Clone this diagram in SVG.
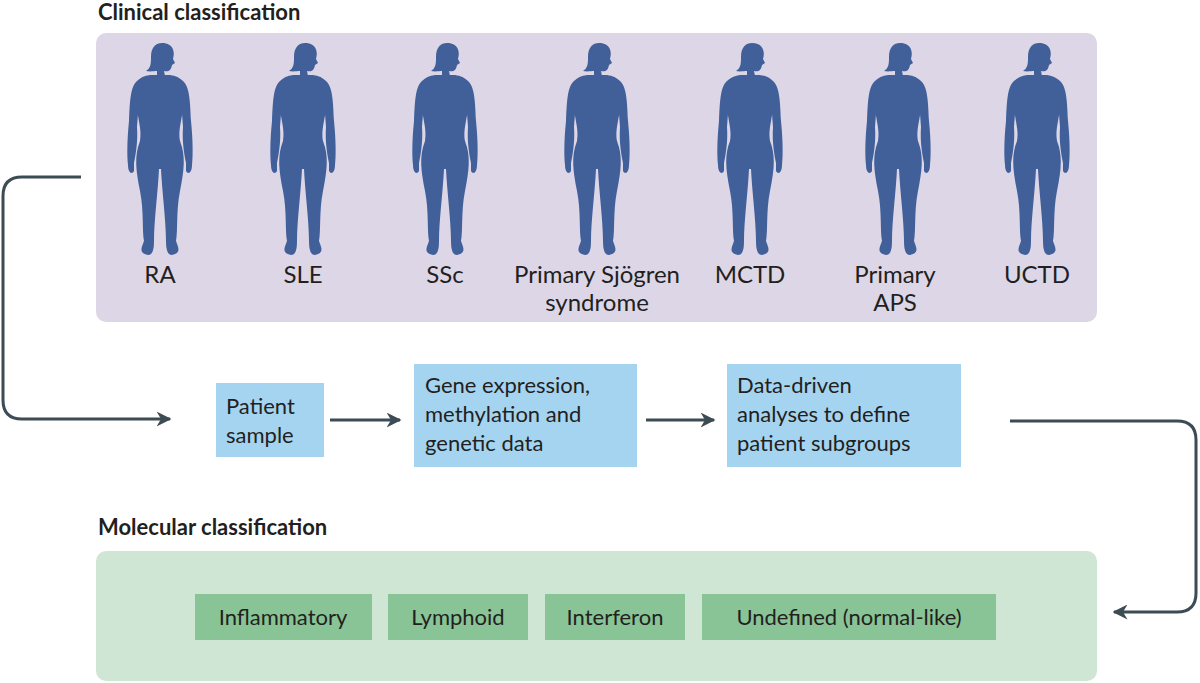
<svg xmlns="http://www.w3.org/2000/svg" width="1200" height="683" viewBox="0 0 1200 683">
<style>
text{font-family:Lato,"Open Sans",sans-serif;fill:#231f20}
.t{font-size:22px;font-weight:bold}
.l{font-size:24px;text-anchor:middle}
.b{font-size:22px}
.fig{fill:#41609a}
.c{fill:none;stroke:#3d4b55;stroke-width:3}
</style>
<defs>
<marker id="a" viewBox="0 0 10 10" refX="9" refY="5" markerWidth="5" markerHeight="5" orient="auto"><path d="M0,0L10,5L0,10L3,5Z" fill="#3d4b55"/></marker>
<g id="w" class="fig">
<path d="M38,2 C50,2 51,12 49,18 L51,22 L48,24 C47,30 44,31 40,30 L41,35 L33,35 L33,30 C30,30 26,31 22,30 C27,27 27,22 27,16 C27,6 32,2 38,2 Z"/>
<path d="M26,34 L46,34 C58,36 62,40 60,60 C58,80 54,88 56,100 C62,115 60,130 56,150 C52,170 54,190 52,200 C54,206 58,212 48,214 C44,214 42,210 42,200 C42,180 38,150 37,128 L35,128 C34,150 30,180 30,200 C30,210 28,214 24,214 C14,212 18,206 20,200 C18,190 20,170 16,150 C12,130 10,115 16,100 C18,88 14,80 12,60 C10,40 14,36 26,34 Z"/>
<path d="M16,38 C6,42 6,60 5,80 C3,100 3,115 4,124 C4,132 8,134 10,130 L10,122 C12,112 14,100 13,86 C14,70 16,55 16,38 Z"/>
<path d="M56,38 C66,42 66,60 67,80 C69,100 69,115 68,124 C68,132 64,134 62,130 L62,122 C60,112 58,100 59,86 C58,70 56,55 56,38 Z"/>
</g>
</defs>
<text class="t" x="98" y="20">Clinical classification</text>
<g id="clinical">
<rect x="96" y="33" width="1001" height="289" rx="10" fill="#ddd6e6"/>
<use href="#w" x="124" y="41"/><use href="#w" x="267" y="41"/><use href="#w" x="409" y="41"/><use href="#w" x="561" y="41"/><use href="#w" x="714" y="41"/><use href="#w" x="862" y="41"/><use href="#w" x="1001" y="41"/>
<text class="l" x="160" y="283">RA</text>
<text class="l" x="303" y="283">SLE</text>
<text class="l" x="445" y="283">SSc</text>
<text class="l" x="597" y="283">Primary Sjögren</text>
<text class="l" x="597" y="311">syndrome</text>
<text class="l" x="750" y="283">MCTD</text>
<text class="l" x="895" y="283">Primary</text>
<text class="l" x="895" y="311">APS</text>
<text class="l" x="1037" y="283">UCTD</text>
</g>
<g id="patient"><rect x="216" y="383" width="108" height="74" fill="#a5d4f1"/><text class="b" x="226" y="414">Patient</text><text class="b" x="226" y="443">sample</text></g>
<g id="gene"><rect x="414" y="364" width="223" height="103" fill="#a5d4f1"/><text class="b" x="425" y="393">Gene expression,</text><text class="b" x="425" y="422">methylation and</text><text class="b" x="425" y="451">genetic data</text></g>
<g id="data"><rect x="727" y="364" width="234" height="103" fill="#a5d4f1"/><text class="b" x="737" y="393">Data-driven</text><text class="b" x="737" y="422">analyses to define</text><text class="b" x="737" y="451">patient subgroups</text></g>
<text class="t" x="98" y="535">Molecular classification</text>
<g id="molecular">
<rect x="96" y="551" width="1001" height="130" rx="10" fill="#d0e6d5"/>
<rect x="195" y="594" width="177" height="46" fill="#88c496"/><text class="b" x="283" y="625" text-anchor="middle">Inflammatory</text>
<rect x="388" y="594" width="140" height="46" fill="#88c496"/><text class="b" x="458" y="625" text-anchor="middle">Lymphoid</text>
<rect x="545" y="594" width="140" height="46" fill="#88c496"/><text class="b" x="615" y="625" text-anchor="middle">Interferon</text>
<rect x="702" y="594" width="294" height="46" fill="#88c496"/><text class="b" x="849" y="625" text-anchor="middle">Undefined (normal-like)</text>
</g>
<g id="connectors">
<path class="c" d="M81,177 H22 Q3,177 3,196 V400 Q3,419 22,419 H170" marker-end="url(#a)"/>
<path class="c" d="M330,420 H400" marker-end="url(#a)"/>
<path class="c" d="M646,420 H714" marker-end="url(#a)"/>
<path class="c" d="M1010,421 H1177 Q1196,421 1196,440 V593 Q1196,612 1177,612 H1114" marker-end="url(#a)"/>
</g>
</svg>
